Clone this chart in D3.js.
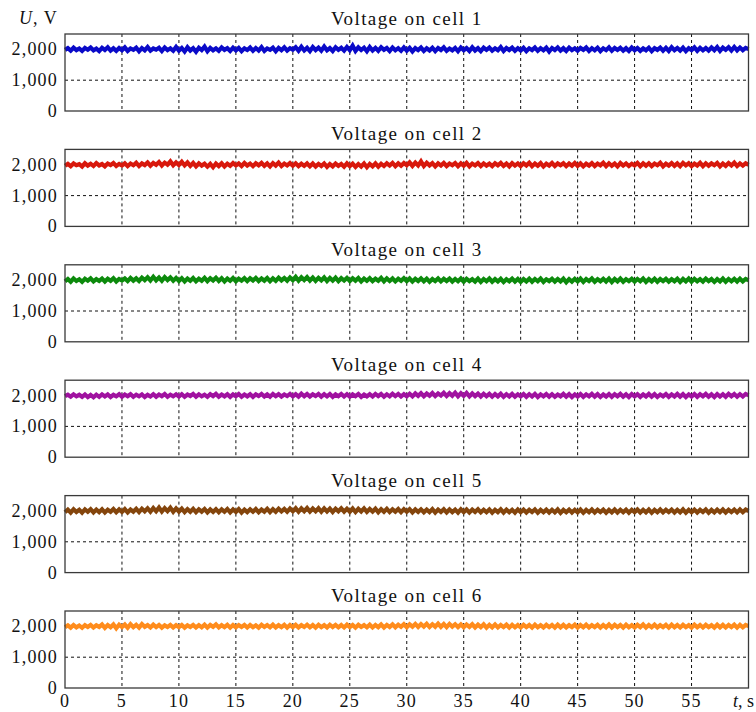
<!DOCTYPE html>
<html>
<head>
<meta charset="utf-8">
<script src="https://cdn.jsdelivr.net/npm/d3@7"></script>
<style>
html,body{margin:0;padding:0;background:#fff;}
svg{display:block;}
text{font-family:"Liberation Serif","Times New Roman",serif;fill:#111;}
</style>
</head>
<body>
<svg id="chart" width="756" height="712"></svg>
<script>
// ---- data ----
const sampleStep = 0.25; // s between samples
const xTicks = [0,5,10,15,20,25,30,35,40,45,50,55];
const yTicks = [0,1000,2000];
const yTickLabels = ["0","1,000","2,000"];
const titles = ["Voltage on cell 1","Voltage on cell 2","Voltage on cell 3","Voltage on cell 4","Voltage on cell 5","Voltage on cell 6"];
const colors = ["#0a0ac8","#d8180c","#0c8a0c","#a012a0","#84450c","#ff8c1c"];

const cell1 = [
1985,2040,1960,2055,1975,2030,1950,2045,1990,2060,1970,2025,1945,2050,1980,2070,1960,2035,1955,2045,
1975,2065,1950,2030,1985,2055,1940,2040,1970,2075,1960,2030,1990,2050,1945,2060,1975,2035,1955,2080,
1960,2045,1930,2070,1965,2040,1925,2055,1980,2090,1940,2050,1970,2035,1955,2065,1985,2040,1950,2055,
1970,2050,1945,2035,1980,2060,1955,2045,1965,2075,1950,2030,1985,2055,1940,2050,1975,2065,1960,2040,
1990,2070,1955,2085,1965,2050,1945,2075,1980,2060,1960,2090,1970,2045,1950,2070,1985,2055,1960,2080,
1975,2120,1950,2065,1980,2055,1940,2075,1965,2050,1955,2070,1985,2045,1945,2060,1970,2040,1955,2065,
1960,2050,1935,2040,1975,2060,1950,2035,1965,2055,1945,2045,1980,2065,1955,2030,1970,2050,1940,2060,
1975,2045,1950,2070,1965,2040,1945,2055,1985,2060,1960,2035,1970,2075,1950,2045,1980,2055,1955,2040,
1965,2050,1945,2035,1975,2060,1955,2040,1970,2055,1930,2045,1980,2065,1960,2040,1950,2055,1975,2035,
1960,2045,1985,2060,1950,2040,1970,2055,1945,2035,1975,2065,1955,2045,1980,2050,1960,2040,1950,2060,
1975,2045,1955,2035,1970,2055,1945,2040,1985,2060,1960,2050,1950,2070,1975,2045,1960,2055,1945,2040,
1980,2065,1955,2050,1970,2045,1960,2060,1975,2075,1950,2055,1985,2070,1965,2080,1970,2060,1975,2050,
2010];
const cell2 = [
1970,2030,1955,2045,1985,2020,1945,2050,1975,2035,1960,2055,1980,2025,1950,2040,1990,2060,1965,2030,
1975,2050,1955,2040,1985,2065,1960,2045,1990,2075,1970,2060,2000,2090,1975,2070,2005,2110,1985,2080,
1995,2100,1980,2075,1965,2060,1950,2045,1975,2035,1940,2030,1920,2040,1960,2050,1945,2035,1970,2055,
1980,2045,1960,2060,1975,2040,1955,2050,1985,2065,1965,2045,1950,2055,1975,2070,1960,2040,1980,2055,
1970,2050,1955,2035,1965,2045,1950,2040,1945,2030,1960,2045,1935,2025,1950,2040,1965,2030,1940,2045,
1955,2035,1930,2025,1945,2040,1920,2030,1950,2045,1940,2035,1960,2050,1975,2060,1955,2045,1970,2055,
1985,2080,1965,2070,1975,2110,1960,2065,1980,2055,1950,2045,1975,2060,1960,2040,1985,2055,1955,2045,
1970,2060,1950,2040,1980,2055,1960,2045,1975,2035,1955,2050,1985,2060,1965,2040,1950,2055,1975,2045,
1960,2050,1980,2065,1955,2040,1970,2055,1945,2035,1975,2060,1960,2045,1985,2050,1955,2040,1970,2060,
1965,2045,1950,2035,1975,2055,1960,2040,1980,2065,1955,2050,1970,2040,1945,2055,1975,2045,1960,2035,
1980,2060,1955,2045,1970,2050,1960,2040,1985,2065,1950,2035,1975,2055,1965,2045,1955,2060,1980,2050,
1960,2040,1975,2065,1955,2050,1970,2045,1985,2060,1950,2040,1965,2055,1980,2070,1960,2045,1975,2050,
2000];
const cell3 = [
1965,2040,1950,2055,1975,2030,1945,2045,1985,2060,1960,2035,1975,2050,1955,2045,1980,2065,1960,2040,
1990,2055,1970,2070,1985,2060,1975,2080,2000,2095,1990,2110,1995,2085,1980,2100,2005,2090,1985,2075,
1975,2065,1960,2055,1980,2070,1965,2050,1985,2075,1970,2060,1990,2080,1975,2065,1960,2055,1980,2070,
1965,2050,1985,2065,1970,2060,1990,2075,1975,2055,1985,2070,1965,2060,1980,2080,1995,2070,1985,2090,
2000,2110,1985,2095,2005,2100,1990,2085,1980,2075,1995,2090,1975,2070,1985,2080,1970,2065,1990,2075,
1975,2060,1985,2070,1960,2055,1980,2065,1970,2050,1985,2075,1965,2060,1975,2055,1960,2045,1980,2065,
1970,2055,1955,2045,1975,2060,1965,2050,1950,2040,1970,2055,1960,2045,1975,2050,1955,2040,1965,2055,
1950,2045,1970,2035,1955,2050,1945,2040,1965,2055,1950,2035,1960,2045,1940,2030,1965,2050,1955,2040,
1945,2035,1960,2050,1950,2040,1965,2055,1945,2030,1970,2045,1955,2040,1960,2050,1935,2035,1955,2045,
1960,2050,1945,2040,1970,2055,1950,2035,1965,2045,1955,2050,1940,2040,1960,2055,1950,2035,1970,2045,
1955,2040,1965,2055,1945,2035,1960,2050,1950,2040,1970,2045,1955,2035,1965,2050,1945,2040,1960,2055,
1950,2045,1965,2035,1955,2050,1970,2040,1945,2035,1960,2055,1950,2040,1965,2045,1955,2050,1960,2040,
1995];
const cell4 = [
1980,2030,1965,2040,1975,2025,1960,2035,1950,2020,1945,2030,1960,2040,1970,2035,1955,2025,1975,2045,
1965,2035,1980,2045,1960,2030,1975,2040,1955,2025,1970,2045,1965,2035,1980,2050,1960,2030,1975,2040,
1970,2045,1960,2035,1985,2050,1965,2040,1975,2030,1960,2045,1980,2055,1965,2035,1975,2045,1960,2040,
1980,2050,1965,2035,1975,2045,1960,2040,1985,2055,1970,2040,1965,2050,1980,2045,1970,2035,1985,2055,
1975,2045,1965,2060,1980,2050,1970,2040,1985,2055,1965,2045,1975,2050,1960,2040,1980,2055,1970,2045,
1965,2040,1980,2050,1960,2035,1975,2045,1970,2055,1985,2050,1965,2040,1975,2060,1985,2055,1970,2045,
1980,2060,1975,2070,1990,2075,1980,2065,1995,2085,1985,2070,2000,2090,1990,2080,1995,2095,1980,2075,
1990,2085,1975,2070,1985,2065,1970,2060,1980,2055,1965,2050,1975,2060,1960,2045,1970,2055,1965,2040,
1975,2050,1960,2045,1970,2055,1955,2040,1975,2050,1965,2045,1960,2035,1975,2055,1965,2045,1955,2040,
1970,2050,1960,2040,1975,2055,1965,2045,1955,2035,1970,2050,1960,2045,1975,2055,1965,2040,1955,2050,
1975,2045,1960,2040,1970,2055,1965,2045,1955,2035,1975,2050,1960,2040,1970,2055,1965,2045,1955,2040,
1970,2050,1960,2045,1975,2055,1965,2040,1955,2050,1970,2045,1960,2055,1975,2050,1965,2045,1970,2055,
2010];
const cell5 = [
1960,2045,1950,2055,1970,2040,1945,2050,1975,2060,1955,2045,1965,2055,1950,2040,1975,2065,1960,2050,
1970,2060,1955,2050,1980,2070,1965,2075,1990,2085,1975,2095,1990,2110,1980,2090,1995,2105,1975,2085,
1980,2075,1965,2060,1975,2070,1960,2055,1980,2065,1955,2050,1970,2060,1960,2055,1975,2065,1955,2050,
1970,2060,1950,2045,1965,2055,1975,2065,1960,2050,1980,2070,1965,2060,1975,2075,1985,2070,1975,2080,
1990,2090,1975,2085,1995,2095,1980,2080,1990,2090,1975,2085,1985,2080,1970,2075,1990,2085,1980,2075,
1975,2080,1965,2070,1985,2085,1970,2065,1980,2075,1960,2060,1975,2070,1965,2055,1980,2065,1960,2060,
1975,2060,1955,2050,1970,2055,1960,2045,1965,2060,1950,2045,1970,2055,1955,2050,1965,2045,1950,2055,
1965,2050,1950,2045,1970,2055,1955,2040,1960,2050,1945,2040,1965,2055,1950,2045,1960,2040,1945,2050,
1960,2045,1950,2040,1965,2050,1945,2035,1960,2045,1950,2040,1955,2050,1940,2035,1960,2045,1950,2040,
1955,2045,1945,2035,1960,2050,1950,2040,1965,2045,1945,2035,1955,2050,1950,2040,1960,2045,1945,2040,
1960,2050,1950,2040,1955,2045,1945,2035,1960,2050,1955,2040,1965,2045,1950,2040,1955,2050,1945,2035,
1960,2045,1950,2040,1965,2050,1945,2035,1955,2045,1960,2050,1950,2040,1965,2045,1955,2050,1960,2045,
2000];
const cell6 = [
1975,2035,1960,2045,1970,2030,1955,2040,1980,2050,1965,2035,1985,2060,1950,2045,1975,2065,1940,2055,
1980,2060,1955,2070,1975,2050,1960,2075,1985,2040,1965,2055,1975,2045,1960,2035,1980,2050,1965,2040,
1975,2045,1960,2035,1980,2050,1965,2040,1970,2055,1960,2045,1985,2065,1965,2040,1975,2050,1960,2045,
1970,2040,1980,2050,1965,2045,1975,2035,1960,2050,1980,2045,1970,2055,1965,2040,1975,2050,1960,2045,
1975,2050,1965,2040,1980,2055,1970,2045,1960,2050,1975,2040,1965,2055,1980,2050,1970,2045,1965,2055,
1975,2045,1960,2050,1980,2040,1970,2055,1965,2045,1975,2060,1965,2050,1980,2065,1970,2055,1985,2070,
1975,2065,1990,2080,1980,2075,1995,2085,1980,2070,1990,2090,1985,2075,1975,2080,1990,2070,1980,2065,
1970,2060,1985,2070,1965,2055,1975,2065,1960,2050,1970,2060,1965,2045,1975,2055,1960,2050,1970,2045,
1965,2050,1975,2045,1960,2055,1970,2040,1965,2050,1975,2045,1960,2055,1970,2050,1965,2040,1975,2055,
1960,2045,1970,2055,1965,2040,1975,2050,1960,2045,1970,2060,1965,2050,1975,2045,1960,2055,1970,2040,
1965,2050,1975,2060,1960,2045,1970,2055,1965,2040,1975,2050,1960,2055,1970,2045,1965,2050,1975,2040,
1960,2055,1970,2045,1965,2050,1975,2040,1960,2055,1970,2050,1965,2045,1975,2055,1960,2050,1970,2045,
2010];
const cells = [cell1, cell2, cell3, cell4, cell5, cell6];

// ---- layout ----
const svg = d3.select("#chart");
const left = 65, right = 748.5;
const firstTop = 34, panelStep = 115.4, panelH = 77;

const x = d3.scaleLinear().domain([0, 60]).range([left, right]);

cells.forEach((vals, i) => {
  const top = firstTop + i * panelStep;
  const bottom = top + panelH;
  const y = d3.scaleLinear().domain([0, 2500]).range([bottom, top]);
  const g = svg.append("g");

  // title
  g.append("text")
    .attr("x", (left + right) / 2)
    .attr("y", top - 9)
    .attr("text-anchor", "middle")
    .style("font-size", "19px")
    .style("letter-spacing", "1.4px")
    .text(titles[i]);

  // grid (vertical)
  g.selectAll("line.vg").data(xTicks.filter(d => d > 0)).enter().append("line")
    .attr("x1", d => x(d)).attr("x2", d => x(d))
    .attr("y1", top).attr("y2", bottom)
    .attr("stroke", "#111").attr("stroke-width", 1)
    .attr("stroke-dasharray", "3,3");
  // grid (horizontal)
  g.selectAll("line.hg").data(yTicks.filter(d => d > 0)).enter().append("line")
    .attr("x1", left).attr("x2", right)
    .attr("y1", d => y(d)).attr("y2", d => y(d))
    .attr("stroke", "#111").attr("stroke-width", 1)
    .attr("stroke-dasharray", "3,3");

  // series
  const line = d3.line()
    .x((d, k) => x(k * sampleStep))
    .y(d => y(d));
  g.append("path")
    .datum(vals)
    .attr("d", line)
    .attr("fill", "none")
    .attr("stroke", colors[i])
    .attr("stroke-width", 4.2)
    .attr("stroke-linejoin", "miter");

  // frame
  g.append("rect")
    .attr("x", left).attr("y", top)
    .attr("width", right - left).attr("height", panelH)
    .attr("fill", "none").attr("stroke", "#3a3a3a").attr("stroke-width", 1.3);

  // y axis labels
  g.selectAll("text.yt").data(yTicks).enter().append("text")
    .attr("x", left - 7)
    .attr("y", d => y(d) + 6)
    .attr("text-anchor", "end")
    .style("font-size", "18px")
    .style("letter-spacing", "1.2px")
    .text((d, k) => yTickLabels[k]);

  if (i === cells.length - 1) {
    g.selectAll("text.xt").data(xTicks).enter().append("text")
      .attr("x", d => x(d))
      .attr("y", bottom + 19)
      .attr("text-anchor", "middle")
      .style("font-size", "18px")
      .style("letter-spacing", "1.2px")
      .text(d => d);
    const tl = g.append("text")
      .attr("x", 733).attr("y", bottom + 19)
      .style("font-size", "18px");
    tl.append("tspan").style("font-style", "italic").text("t");
    tl.append("tspan").text(", s");
  }
});

// y axis name
const ul = svg.append("text").attr("x", 19).attr("y", 24)
  .style("font-size", "18px").style("letter-spacing", "1px");
ul.append("tspan").style("font-style", "italic").text("U");
ul.append("tspan").text(", V");
</script>
</body>
</html>
